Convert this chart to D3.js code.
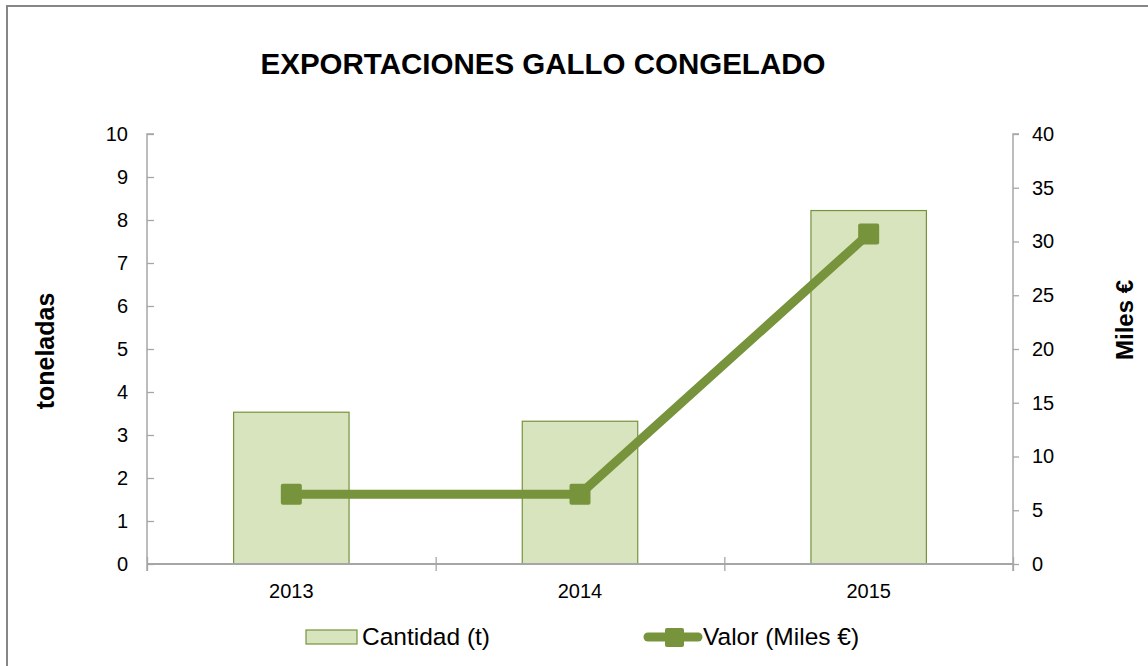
<!DOCTYPE html>
<html>
<head>
<meta charset="utf-8">
<script src="https://cdn.jsdelivr.net/npm/d3@7"></script>
<style>
  body { margin: 0; background: #fff; }
  svg { display: block; font-family: "Liberation Sans", Arial, sans-serif; }
</style>
</head>
<body>
<svg id="chart"></svg>
<script>
// Data
let years = ["2013", "2014", "2015"];
let cantidad = [3.53, 3.32, 8.22];   // toneladas
let valor = [6.5, 6.5, 30.7];        // miles €
let leftTicks = [0, 1, 2, 3, 4, 5, 6, 7, 8, 9, 10];
let rightTicks = [0, 5, 10, 15, 20, 25, 30, 35, 40];

let width = 1148;
let height = 666;
let plotLeft = 147;
let plotRight = 1013;
let plotTop = 134;
let plotBottom = 564;

let barFill = "#d7e4bd";
let green = "#77933c";
let axisColor = "#a6a6a6";

let svg = d3.select("#chart").attr("width", width).attr("height", height);

// chart border
svg.append("rect")
  .attr("x", 7).attr("y", 6)
  .attr("width", width + 20).attr("height", height + 20)
  .attr("fill", "none").attr("stroke", "#868686").attr("stroke-width", 2);

// title
svg.append("text")
  .attr("x", 543).attr("y", 74)
  .attr("text-anchor", "middle")
  .attr("font-size", 29.5).attr("font-weight", "bold")
  .text("EXPORTACIONES GALLO CONGELADO");

// scales
let x = d3.scaleBand().domain(years).range([plotLeft, plotRight]);
let xEdges = d3.scaleLinear().domain([0, years.length]).range([plotLeft, plotRight]);
let y = d3.scaleLinear().domain([0, 10]).range([plotBottom, plotTop]);
let y2 = d3.scaleLinear().domain([0, 40]).range([plotBottom, plotTop]);

// bars
let barW = x.bandwidth() * 0.4;
svg.selectAll(".bar")
  .data(years)
  .enter()
  .append("rect")
  .attr("class", "bar")
  .attr("x", (d) => x(d) + (x.bandwidth() - barW) / 2)
  .attr("y", (d, i) => y(cantidad[i]))
  .attr("width", barW)
  .attr("height", (d, i) => plotBottom - y(cantidad[i]))
  .attr("fill", barFill)
  .attr("stroke", green)
  .attr("stroke-width", 1.2);

// left axis (ticks point inward)
let yAxis = d3.axisLeft(y).tickValues(leftTicks).tickSize(-7).tickPadding(19);
let gy = svg.append("g")
  .attr("transform", "translate(" + plotLeft + ",0)")
  .call(yAxis);

// right axis
let y2Axis = d3.axisRight(y2).tickValues(rightTicks).tickSize(6).tickPadding(13);
let gy2 = svg.append("g")
  .attr("transform", "translate(" + plotRight + ",0)")
  .call(y2Axis);

// x axis: labels centred in the bands, tick marks on the band edges
let xAxis = d3.axisBottom(x).tickSize(0).tickPadding(20);
let gx = svg.append("g")
  .attr("transform", "translate(0," + plotBottom + ")")
  .call(xAxis);
let xTicks = d3.axisBottom(xEdges).ticks(years.length).tickSize(7).tickFormat("");
let gxt = svg.append("g")
  .attr("transform", "translate(0," + plotBottom + ")")
  .call(xTicks);
gxt.selectAll(".tick line").attr("y1", -7);

[gy, gy2, gx, gxt].forEach((g) => {
  g.selectAll("path").attr("stroke", axisColor).attr("stroke-width", 1.5);
  g.selectAll("line").attr("stroke", axisColor).attr("stroke-width", 1.3);
  g.selectAll("text").attr("font-size", 20).attr("fill", "#000")
    .attr("font-family", "Liberation Sans, Arial, sans-serif");
});
gy.select("path").attr("d", "M0," + (plotBottom + 7) + "V" + plotTop + "H7");
gy2.select("path").attr("d", "M0," + (plotBottom + 7) + "V" + plotTop + "H6");
gx.select("path").attr("d", "M" + plotLeft + ",0H" + plotRight).attr("stroke-width", 2);
gxt.select("path").remove();

// value line
let line = d3.line()
  .x((d, i) => x(years[i]) + x.bandwidth() / 2)
  .y((d) => y2(d));
svg.append("path")
  .datum(valor)
  .attr("d", line)
  .attr("fill", "none")
  .attr("stroke", green)
  .attr("stroke-width", 9)
  .attr("stroke-linejoin", "round");

let mSize = 21;
svg.selectAll(".marker")
  .data(valor)
  .enter()
  .append("rect")
  .attr("class", "marker")
  .attr("x", (d, i) => x(years[i]) + x.bandwidth() / 2 - mSize / 2)
  .attr("y", (d) => y2(d) - mSize / 2)
  .attr("width", mSize).attr("height", mSize)
  .attr("rx", 2)
  .attr("fill", green);

// axis titles
svg.append("text")
  .attr("transform", "translate(54,351) rotate(-90)")
  .attr("text-anchor", "middle")
  .attr("font-size", 25).attr("font-weight", "bold")
  .text("toneladas");
svg.append("text")
  .attr("transform", "translate(1133,320) rotate(-90)")
  .attr("text-anchor", "middle")
  .attr("font-size", 24).attr("font-weight", "bold")
  .text("Miles €");

// legend
let legend = svg.append("g");
legend.append("rect")
  .attr("x", 306).attr("y", 630).attr("width", 51).attr("height", 14)
  .attr("fill", barFill).attr("stroke", green).attr("stroke-width", 1.2);
legend.append("text")
  .attr("x", 362).attr("y", 645)
  .attr("font-size", 24.5)
  .text("Cantidad (t)");
legend.append("line")
  .attr("x1", 648).attr("x2", 698).attr("y1", 637).attr("y2", 637)
  .attr("stroke", green).attr("stroke-width", 9).attr("stroke-linecap", "round");
legend.append("rect")
  .attr("x", 665).attr("y", 628).attr("width", 19).attr("height", 19)
  .attr("rx", 2).attr("fill", green);
legend.append("text")
  .attr("x", 703).attr("y", 645)
  .attr("font-size", 24.5)
  .text("Valor (Miles €)");
</script>
</body>
</html>
